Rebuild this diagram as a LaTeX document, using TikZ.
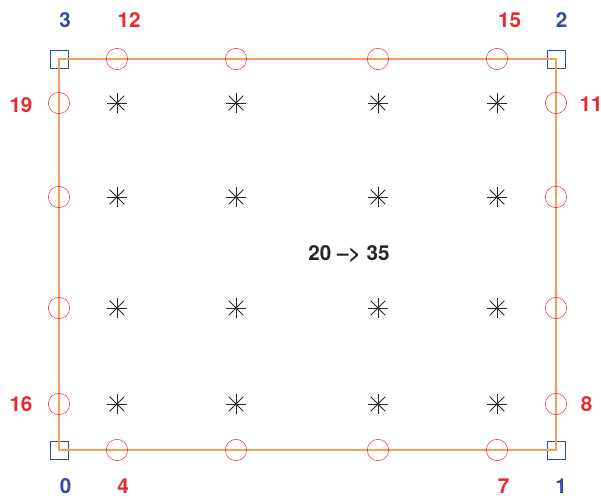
\documentclass[tikz,border=0pt]{standalone}
\usepackage{fontspec}
\setmainfont{TeX Gyre Heros}
\definecolor{myred}{rgb}{0.91,0.16,0.2}
\definecolor{myblue}{rgb}{0.2,0.3,0.64}
\definecolor{myorange}{rgb}{0.97,0.62,0.35}
\usetikzlibrary{positioning}
\tikzset{
    corner/.style={
           rectangle,
           draw=myblue, thin,
           minimum size=13.3pt,
           inner sep=0pt,
           },
    midpt/.style={
           circle,
           draw=myred, thin,
           minimum size=16pt,
           inner sep=0pt,
           },
    gridmark/.style={
           minimum size=16pt,
           inner sep=0pt,
           path picture={
               \foreach \a in {0,45,90,135}
                   \draw[black!85, line width=0.55pt, shift={(path picture bounding box.center)}]
                        (\a:7.8pt) -- (\a+180:7.8pt);
           },
           },
    rlabel/.style={text=myred, inner sep=0pt, font=\bfseries\fontsize{15.5}{17}\selectfont},
    blabel/.style={text=myblue, inner sep=0pt, font=\bfseries\fontsize{15.5}{17}\selectfont},
}

\begin{document}
\begin{tikzpicture}[x=0.75pt, y=-0.75pt]
      \useasboundingbox (0,0) rectangle (601,499);
      % corners
      \node[corner] (v0) at ( 59, 450) {};
      \node[corner] (v1) at (556, 450) {};
      \node[corner] (v2) at (556,  59) {};
      \node[corner] (v3) at ( 59,  59) {};
      \draw[myorange, line width=0.8pt] (v0.center) -- (v1.center) -- (v2.center) -- (v3.center) -- cycle;
      % edge points
      \foreach \x [count=\i from 4] in {117,236,378,497}
          \node[midpt] (m\i) at (\x, 450) {};
      \foreach \y [count=\i from 8] in {404,308,197,103}
          \node[midpt] (m\i) at (556, \y) {};
      \foreach \x [count=\i from 12] in {117,236,378,497}
          \node[midpt] (m\i) at (\x, 59) {};
      \foreach \y [count=\i from 16] in {404,308,197,103}
          \node[midpt] (m\i) at (59, \y) {};
      % interior points
      \foreach \y [count=\r from 0] in {404,308,197,103}
          \foreach \x [count=\c from 0] in {117,236,378,497}
              \pgfmathtruncatemacro{\k}{20+4*\r+\c}
              \node[gridmark] (q\k) at (\x, \y) {};
      % labels
      \node[blabel] (l0) at ( 65.5, 486) {0};
      \node[blabel] (l1) at (561, 486) {1};
      \node[blabel] (l2) at (561.5, 20.5) {2};
      \node[blabel] (l3) at ( 65,  20.5) {3};
      \node[rlabel] (l4) at (123, 486) {4};
      \node[rlabel] (l7) at (503.5, 486) {7};
      \node[rlabel] (l8) at (586.5, 404.5) {8};
      \node[rlabel] (l11) at (591, 104.5) {11};
      \node[rlabel] (l12) at (129,  20.5) {12};
      \node[rlabel] (l15) at (509.5, 20.5) {15};
      \node[rlabel] (l16) at ( 21, 404.5) {16};
      \node[rlabel] (l19) at ( 21, 105) {19};
      \node[text=black!85, font=\bfseries\fontsize{15.5}{17}\selectfont] (info) at (349, 254.5) {20 --> 35};
\end{tikzpicture}
\end{document}
